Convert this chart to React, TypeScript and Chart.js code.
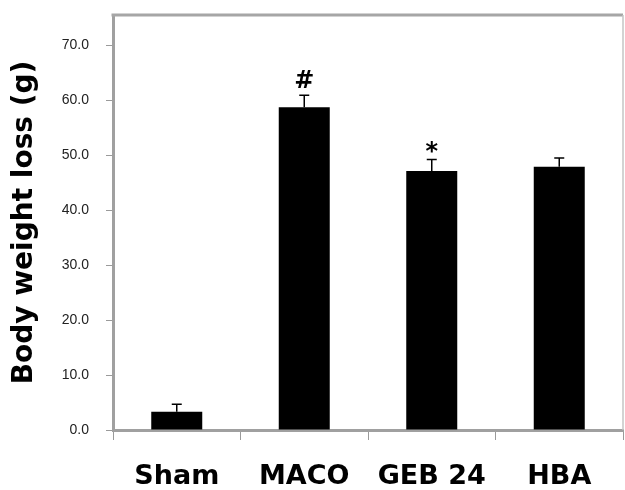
import React, { useEffect, useRef } from "react";
import { Chart, registerables } from "chart.js";

Chart.register(...registerables);

const categories = ["Sham", "MACO", "GEB 24", "HBA"];
const bodyWeightLoss = [3.3, 58.7, 47.1, 47.9];
const errorValues = [1.4, 2.2, 2.1, 1.6];
const significance = ["", "#", "*", ""];
const yTickValues = [0, 10, 20, 30, 40, 50, 60, 70];

const errorBarPlugin = {
  id: "errorBars",
  afterDatasetsDraw(chart: any) {
    const ctx = chart.ctx;
    const meta = chart.getDatasetMeta(0);
    const yScale = chart.scales.y;
    ctx.save();
    meta.data.forEach((bar: any, i: number) => {
      const x = bar.x;
      const yTop = yScale.getPixelForValue(bodyWeightLoss[i] + errorValues[i]);
      const yBar = yScale.getPixelForValue(bodyWeightLoss[i]);
      ctx.strokeStyle = "#000";
      ctx.lineWidth = 1.5;
      ctx.beginPath();
      ctx.moveTo(x, yBar);
      ctx.lineTo(x, yTop);
      ctx.moveTo(x - 5, yTop);
      ctx.lineTo(x + 5, yTop);
      ctx.stroke();
      const sig = significance[i];
      if (sig) {
        ctx.font = "bold 24px 'DejaVu Sans'";
        ctx.fillStyle = "#000";
        ctx.textAlign = "center";
        ctx.textBaseline = "alphabetic";
        const m = ctx.measureText(sig);
        const baseline = yTop - 7 - m.actualBoundingBoxDescent;
        ctx.fillText(sig, x, baseline);
      }
    });
    ctx.restore();
  },
};

const framePlugin = {
  id: "frame",
  afterDraw(chart: any) {
    const { ctx, chartArea } = chart;
    ctx.save();
    ctx.strokeStyle = "#a6a6a6";
    ctx.lineWidth = 3;
    ctx.beginPath();
    ctx.moveTo(chartArea.left - 1.5, chartArea.top);
    ctx.lineTo(chartArea.right, chartArea.top);
    ctx.stroke();
    ctx.strokeStyle = "#c4c4c4";
    ctx.lineWidth = 1.5;
    ctx.beginPath();
    ctx.moveTo(chartArea.right, chartArea.top);
    ctx.lineTo(chartArea.right, chartArea.bottom);
    ctx.stroke();
    ctx.restore();
  },
};

export default function App() {
  const canvasRef = useRef<HTMLCanvasElement | null>(null);

  useEffect(() => {
    if (!canvasRef.current) return;
    const chart = new Chart(canvasRef.current, {
      type: "bar",
      data: {
        labels: categories,
        datasets: [
          {
            data: bodyWeightLoss,
            backgroundColor: "#000",
            borderWidth: 0,
            barPercentage: 0.4,
            categoryPercentage: 1,
          },
        ],
      },
      options: {
        animation: false,
        responsive: true,
        maintainAspectRatio: false,
        layout: { padding: { top: 15, right: 2, left: 0, bottom: 0 } },
        plugins: {
          legend: { display: false },
          tooltip: { enabled: false },
        },
        scales: {
          x: {
            grid: {
              offset: true,
              drawOnChartArea: false,
              drawTicks: true,
              tickLength: 10,
              color: "#9a9a9a",
              lineWidth: 1,
            },
            border: { display: true, color: "#a0a0a0", width: 3 },
            ticks: {
              color: "#000",
              font: { family: "'DejaVu Sans'", size: 27, weight: "bold", lineHeight: 1 },
              padding: 23,
              maxRotation: 0,
              autoSkip: false,
            },
            afterFit: (scale: any) => {
              scale.height = 60;
            },
          },
          y: {
            min: 0,
            max: 75.5,
            afterBuildTicks: (scale: any) => {
              scale.ticks = yTickValues.map((v) => ({ value: v }));
            },
            grid: {
              drawOnChartArea: false,
              drawTicks: true,
              tickLength: 7,
              color: "#9a9a9a",
              lineWidth: 1,
            },
            border: { display: true, color: "#a0a0a0", width: 3 },
            ticks: {
              color: "#222",
              font: { family: "'Liberation Sans', Arial, sans-serif", size: 14 },
              padding: 17,
              callback: (v: any) => Number(v).toFixed(1),
            },
            title: {
              display: true,
              text: "Body weight loss (g)",
              color: "#000",
              font: { family: "'DejaVu Sans'", size: 28, weight: "bold", lineHeight: 1 },
              padding: { top: 11, bottom: 0 },
            },
            afterFit: (scale: any) => {
              scale.width = 113;
              scale.paddingTop = 0;
              scale.paddingBottom = 0;
            },
          },
        },
      },
      plugins: [errorBarPlugin, framePlugin],
    });
    return () => chart.destroy();
  }, []);

  return (
    <div style={{ position: "fixed", left: 0, top: 0, width: 625, height: 490, background: "#fff" }}>
      <canvas ref={canvasRef} />
    </div>
  );
}
